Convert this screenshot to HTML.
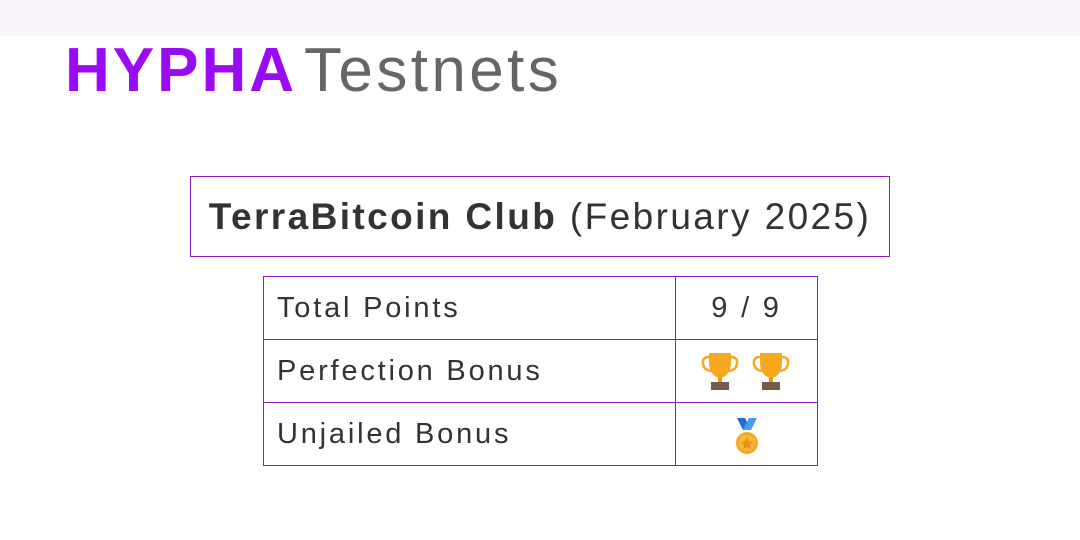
<!DOCTYPE html>
<html><head><meta charset="utf-8"><style>
body{margin:0;width:1080px;height:540px;background:#fff;position:relative;overflow:hidden;font-family:"Liberation Sans",sans-serif}
.band{position:absolute;left:0;top:0;width:1080px;height:36px;background:#fdf5fd}
.logo{position:absolute;left:65px;top:36px;font-size:62px;line-height:70px;white-space:nowrap}
.logo b{color:#9b0af5;font-weight:900;letter-spacing:3px}
.logo span{color:#666;margin-left:7px;letter-spacing:3.4px}
.title{position:absolute;left:190px;top:176px;width:698px;height:79px;border:1px solid #8a1cc0;font-size:37px;line-height:79px;text-align:center;color:#333;letter-spacing:2.4px}
table{position:absolute;left:263px;top:276px;border-collapse:collapse}
td{border:1px solid #8a1cc0;height:62px;padding:0;font-size:29px;color:#333;letter-spacing:2.8px}
td.l{width:398px;padding-left:13px}
td.r{width:141px;text-align:center}
svg{vertical-align:middle}
</style></head><body>
<div class="band"></div>
<div class="logo"><b>HYPHA</b><span>Testnets</span></div>
<div class="title"><b>TerraBitcoin Club</b> (February 2025)</div>
<table>
<tr><td class="l">Total Points</td><td class="r">9 / 9</td></tr>
<tr><td class="l">Perfection Bonus</td><td class="r">
<svg width="92" height="40" viewBox="0 0 92 40">
<g id="t"><path d="M8 2 h22 v9 q0 14 -11 16 q-11 -2 -11 -16z" fill="#f6a821"/><path d="M8 6 q-7 0 -6 7 q1 6 8 7 M30 6 q7 0 6 7 q-1 6 -8 7" stroke="#f6a821" stroke-width="2.5" fill="none"/><rect x="17" y="26" width="4" height="5" fill="#e99a16"/><rect x="10" y="31" width="18" height="8" fill="#7a5a4a"/></g>
<use href="#t" x="51"/>
</svg></td></tr>
<tr><td class="l">Unjailed Bonus</td><td class="r">
<svg width="40" height="40" viewBox="0 0 40 40" style="margin-top:6px">
<path d="M10 1 h8 l6 12 h-8z" fill="#1f6fd0"/><path d="M30 1 h-8 l-6 12 h8z" fill="#4a9af0"/>
<circle cx="20" cy="26" r="11" fill="#f6a821"/><circle cx="20" cy="26" r="8" fill="#f8b93a"/>
<path d="M20 20 l2 4.5 4.5 .5 -3.5 3 1 4.5 -4 -2.5 -4 2.5 1 -4.5 -3.5 -3 4.5 -.5z" fill="#e8901a"/>
</svg></td></tr>
</table>
</body></html>
